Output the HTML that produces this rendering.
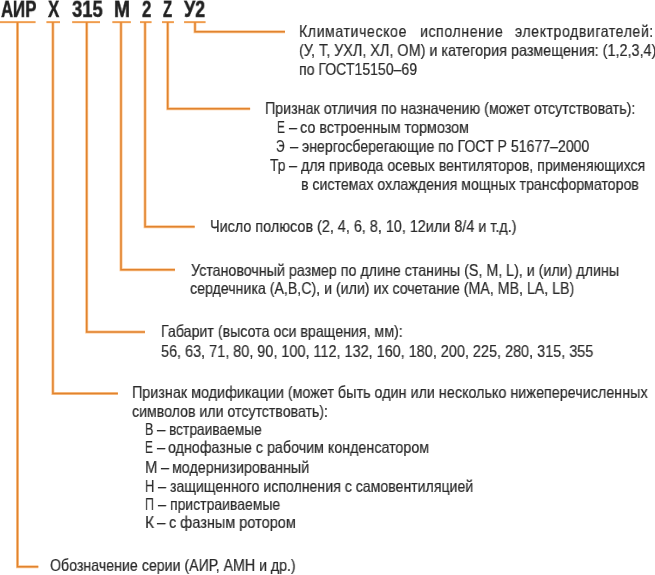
<!DOCTYPE html>
<html><head><meta charset="utf-8"><style>
html,body{margin:0;padding:0;background:#fff;width:655px;height:575px;overflow:hidden;position:relative}
.t{position:absolute;white-space:nowrap;will-change:transform;font-family:"Liberation Sans",sans-serif;color:#2a2a2a;transform-origin:0 0}
.t{font-size:16.5px;line-height:20px;-webkit-text-stroke:0.2px #2a2a2a}
.b{font-weight:bold;color:#222;-webkit-text-stroke:0.5px #1e1e1e;font-size:23px;line-height:28px}
svg{position:absolute;left:0;top:0}
path{fill:none;stroke-linejoin:miter;stroke-linecap:butt}
.u{stroke:rgba(250,165,80,0.62);stroke-width:3}
.c{stroke:#E0832F;stroke-width:1.5}
.uu{stroke:rgba(250,170,80,0.6);stroke-width:2.4}
.cu{stroke:#EA8C38;stroke-width:1.1}
</style></head><body>
<svg width="655" height="575" viewBox="0 0 655 575">
<path class="u" d="M17.5 22.1V566.8H38.3 M52.9 22.1V393.45H117.9 M86.7 22.1V331.9H145 M121 22.1V269.8H175 M145.06 22.1V226.65H194.7 M167.7 22.1V108.74H250.1 M195 22.1V31.74H285"/><path class="uu" d="M0 22.1H35.5 M46.5 22.1H60 M72.2 22.1H100 M112.4 22.1H130.8 M140 22.1H151.5 M162 22.1H173.9 M184.1 22.1H205.5"/>
<path class="c" d="M17.5 22.1V566.8H38.3 M52.9 22.1V393.45H117.9 M86.7 22.1V331.9H145 M121 22.1V269.8H175 M145.06 22.1V226.65H194.7 M167.7 22.1V108.74H250.1 M195 22.1V31.74H285"/><path class="cu" d="M0 22.1H35.5 M46.5 22.1H60 M72.2 22.1H100 M112.4 22.1H130.8 M140 22.1H151.5 M162 22.1H173.9 M184.1 22.1H205.5"/>
</svg>
<div id="l0" class="t" style="left:298.58px;top:21.28px;letter-spacing:0.7px;transform:scaleX(0.8548)">Климатическое</div>
<div id="l1" class="t" style="left:420.15px;top:21.28px;letter-spacing:0.7px;transform:scaleX(0.8547)">исполнение</div>
<div id="l2" class="t" style="left:515.43px;top:21.28px;letter-spacing:0.7px;transform:scaleX(0.8509)">электродвигателей:</div>
<div id="l3" class="t" style="left:298.56px;top:40.28px;transform:scaleX(0.8721)">(У, Т, УХЛ, ХЛ, ОМ) и категория размещения: (1,2,3,4)</div>
<div id="l4" class="t" style="left:298.58px;top:59.28px;transform:scaleX(0.8533)">по ГОСТ15150–69</div>
<div id="l5" class="t" style="left:264.76px;top:98.28px;transform:scaleX(0.8646)">Признак отличия по назначению (может отсутствовать):</div>
<div id="l6" class="t" style="left:276.92px;top:117.28px;transform:scaleX(0.7200)">Е</div>
<div id="l7" class="t" style="left:288.81px;top:117.28px;transform:scaleX(0.8667)">–</div>
<div id="l8" class="t" style="left:300.19px;top:117.28px;transform:scaleX(0.8708)">со встроенным тормозом</div>
<div id="l9" class="t" style="left:276.07px;top:136.28px;transform:scaleX(0.7200)">Э</div>
<div id="l10" class="t" style="left:289.75px;top:136.28px;transform:scaleX(0.8889)">–</div>
<div id="l11" class="t" style="left:302.00px;top:136.28px;transform:scaleX(0.8539)">энергосберегающие по ГОСТ Р 51677–2000</div>
<div id="l12" class="t" style="left:269.73px;top:155.28px;transform:scaleX(0.8389)">Тр</div>
<div id="l13" class="t" style="left:288.81px;top:155.28px;transform:scaleX(0.8667)">–</div>
<div id="l14" class="t" style="left:300.63px;top:155.28px;transform:scaleX(0.8559)">для привода осевых вентиляторов, применяющихся</div>
<div id="l15" class="t" style="left:301.14px;top:174.28px;transform:scaleX(0.8584)">в системах охлаждения мощных трансформаторов</div>
<div id="l16" class="t" style="left:210.13px;top:216.28px;transform:scaleX(0.8720)">Число полюсов (2, 4, 6, 8, 10, 12или 8/4 и т.д.)</div>
<div id="l17" class="t" style="left:191.07px;top:260.28px;transform:scaleX(0.8644)">Установочный размер по длине станины (S, M, L), и (или) длины</div>
<div id="l18" class="t" style="left:190.21px;top:278.28px;transform:scaleX(0.8596)">сердечника (A,B,C), и (или) их сочетание (MA, MB, LA, LB)</div>
<div id="l19" class="t" style="left:160.69px;top:321.28px;transform:scaleX(0.8615)">Габарит (высота оси вращения, мм):</div>
<div id="l20" class="t" style="left:160.68px;top:341.28px;transform:scaleX(0.8748)">56, 63, 71, 80, 90, 100, 112, 132, 160, 180, 200, 225, 280, 315, 355</div>
<div id="l21" class="t" style="left:132.13px;top:382.28px;transform:scaleX(0.8704)">Признак модификации (может быть один или несколько нижеперечисленных</div>
<div id="l22" class="t" style="left:132.14px;top:401.28px;transform:scaleX(0.8580)">символов или отсутствовать):</div>
<div id="l23" class="t" style="left:144.94px;top:419.28px;transform:scaleX(0.7556)">В</div>
<div id="l24" class="t" style="left:157.19px;top:419.28px;transform:scaleX(0.9222)">–</div>
<div id="l25" class="t" style="left:168.61px;top:419.28px;transform:scaleX(0.8336)">встраиваемые</div>
<div id="l26" class="t" style="left:144.51px;top:437.28px;transform:scaleX(0.7200)">Е</div>
<div id="l27" class="t" style="left:156.75px;top:437.28px;transform:scaleX(0.8889)">–</div>
<div id="l28" class="t" style="left:167.76px;top:437.28px;transform:scaleX(0.8653)">однофазные с рабочим конденсатором</div>
<div id="l29" class="t" style="left:144.86px;top:457.28px;transform:scaleX(0.8917)">М</div>
<div id="l30" class="t" style="left:161.00px;top:457.28px;transform:scaleX(0.8667)">–</div>
<div id="l31" class="t" style="left:172.38px;top:457.28px;transform:scaleX(0.8643)">модернизированный</div>
<div id="l32" class="t" style="left:144.92px;top:476.28px;transform:scaleX(0.7800)">Н</div>
<div id="l33" class="t" style="left:158.18px;top:476.28px;transform:scaleX(0.8667)">–</div>
<div id="l34" class="t" style="left:170.43px;top:476.28px;transform:scaleX(0.8567)">защищенного исполнения с самовентиляцией</div>
<div id="l35" class="t" style="left:144.94px;top:494.28px;transform:scaleX(0.7500)">П</div>
<div id="l36" class="t" style="left:158.18px;top:494.28px;transform:scaleX(0.8667)">–</div>
<div id="l37" class="t" style="left:169.59px;top:494.28px;transform:scaleX(0.8477)">пристраиваемые</div>
<div id="l38" class="t" style="left:144.83px;top:512.28px;transform:scaleX(0.9375)">К</div>
<div id="l39" class="t" style="left:157.19px;top:512.28px;transform:scaleX(0.9222)">–</div>
<div id="l40" class="t" style="left:169.48px;top:512.28px;transform:scaleX(0.8803)">с фазным ротором</div>
<div id="l41" class="t" style="left:50.14px;top:555.28px;transform:scaleX(0.8602)">Обозначение серии (АИР, АМН и др.)</div>
<div id="h0" class="t b" style="left:1.00px;top:-4px;transform:scale(0.7292,0.95)">АИР</div>
<div id="h1" class="t b" style="left:48.47px;top:-4px;transform:scale(0.7333,0.95)">Х</div>
<div id="h2" class="t b" style="left:71.81px;top:-4px;transform:scale(0.8026,0.95)">315</div>
<div id="h3" class="t b" style="left:113.60px;top:-4px;transform:scale(0.8353,0.95)">М</div>
<div id="h4" class="t b" style="left:141.65px;top:-4px;transform:scale(0.7250,0.95)">2</div>
<div id="h5" class="t b" style="left:162.83px;top:-4px;transform:scale(0.6500,0.95)">Z</div>
<div id="h6" class="t b" style="left:184.11px;top:-4px;transform:scale(0.7815,0.95)">У2</div>
</body></html>
